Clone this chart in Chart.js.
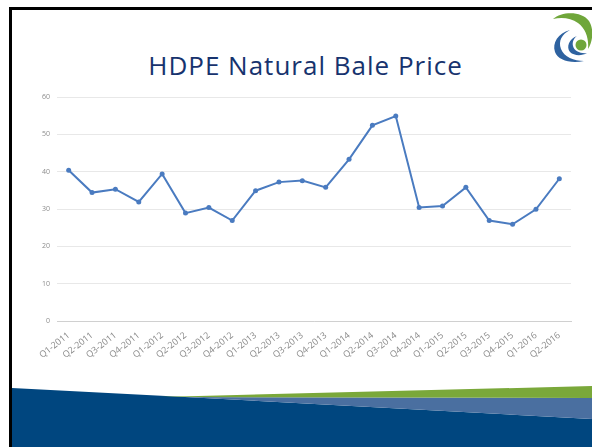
<!DOCTYPE html>
<html>
<head>
<meta charset="utf-8">
<script src="https://cdn.jsdelivr.net/npm/chart.js@4"></script>
<style>
  body{margin:0;background:#fff;}
  #slide{position:relative;width:592px;height:447px;overflow:hidden;background:#fff;}
  #deco{position:absolute;left:0;top:0;}
  #title{position:absolute;left:0;width:611px;top:52px;text-align:center;font-family:"Open Sans",sans-serif;font-size:26px;line-height:26px;letter-spacing:1px;color:#17336e;white-space:nowrap;}
  #frameL{position:absolute;left:9px;top:7px;width:3px;height:440px;background:#000;}
  #frameT{position:absolute;left:9px;top:7px;width:583px;height:3px;background:#000;}
  #c{position:absolute;left:0;top:0;}
</style>
</head>
<body>
<div id="slide">
  <svg id="deco" width="592" height="447">
    <polygon points="12,388 185,397 592,419 592,447 12,447" fill="#00467f"/>
    <polygon points="185,397 592,398 592,419" fill="#4a6fa0"/>
    <polygon points="160,397 592,386 592,398 185,397" fill="#7aa83a"/>
    <!-- logo -->
    <g transform="translate(0,3)">
      <path d="M553,16 C562,8 582,8 589,18 C594,26 593,38 588,46 C589,36 586,26 578,20 C571,15 562,14 553,16 Z" fill="#6fa63a"/>
      <path d="M570,27 C558,30 552,40 555,49 C558,57 570,61 584,58 C574,58 564,54 561,46 C558,38 562,31 570,27 Z" fill="#2e62a0"/>
      <path d="M577,33 C569,36 566,44 570,49 C574,53 582,53 587,50 C581,51 574,48 573,43 C572,39 574,35 577,33 Z" fill="#2e62a0"/>
      <circle cx="581" cy="42" r="5.5" fill="#6fa63a"/>
    </g>
  </svg>
  <div id="frameL"></div>
  <div id="frameT"></div>
  <div id="title">HDPE Natural Bale Price</div>
  <canvas id="c" width="592" height="447"></canvas>
</div>
<script>
// trimestres e preço do fardo
const quarters = ['Q1-2011','Q2-2011','Q3-2011','Q4-2011','Q1-2012','Q2-2012','Q3-2012','Q4-2012',
  'Q1-2013','Q2-2013','Q3-2013','Q4-2013','Q1-2014','Q2-2014','Q3-2014','Q4-2014',
  'Q1-2015','Q2-2015','Q3-2015','Q4-2015','Q1-2016','Q2-2016'];
const prices = [40.4, 34.4, 35.3, 31.9, 39.4, 28.9, 30.4, 26.9, 34.9, 37.2, 37.6, 35.8,
  43.3, 52.4, 54.9, 30.4, 30.8, 35.8, 26.9, 25.9, 29.9, 38.1];
const yTicks = [0, 10, 20, 30, 40, 50, 60];

const lineColor = '#4a7bc0';

new Chart(document.getElementById('c').getContext('2d'), {
  type: 'line',
  data: {
    labels: quarters,
    datasets: [{
      data: prices,
      borderColor: lineColor,
      backgroundColor: lineColor,
      borderWidth: 2,
      pointRadius: 2.5,
      pointBackgroundColor: lineColor,
      pointBorderWidth: 0,
      tension: 0
    }]
  },
  options: {
    responsive: false,
    animation: false,
    devicePixelRatio: 1,
    layout: { padding: { left: 0, top: 97, right: 21, bottom: 0 } },
    plugins: { legend: { display: false }, tooltip: { enabled: false }, title: { display: false } },
    scales: {
      y: {
        min: yTicks[0],
        max: yTicks[yTicks.length - 1],
        afterBuildTicks: s => { s.ticks = yTicks.map(v => ({ value: v })); },
        afterFit: s => { s.width = 57; },
        ticks: { color: '#8c8c8c', font: { family: 'Open Sans', size: 7 }, padding: 7 },
        grid: { color: '#e8e8e8', drawTicks: false },
        border: { display: false }
      },
      x: {
        offset: true,
        afterFit: s => { s.height = 126; },
        ticks: { color: '#8a8a8a', font: { family: 'Open Sans', size: 9 }, minRotation: 38, maxRotation: 38, padding: 9, autoSkip: false },
        grid: { display: false, drawTicks: false },
        border: { display: true, color: '#d0d0d0', width: 1 }
      }
    }
  }
});
</script>
</body>
</html>
